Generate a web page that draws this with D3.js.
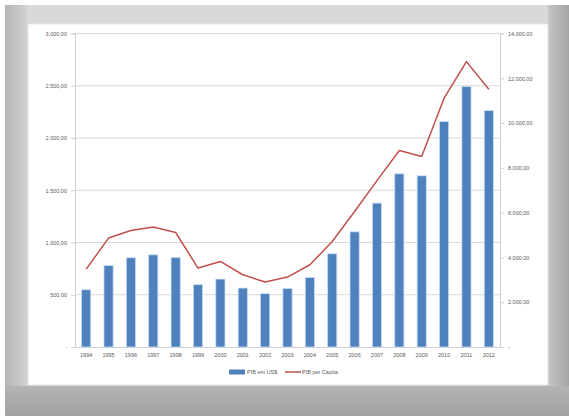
<!DOCTYPE html>
<html>
<head>
<meta charset="utf-8">
<script src="https://cdn.jsdelivr.net/npm/d3@7"></script>
<style>
body { margin: 0; background: #fff; }
text { font-family: "Liberation Sans", Arial, sans-serif; fill: #595959; }
</style>
</head>
<body>
<div id="chart"></div>
<script>
var years = ['1994', '1995', '1996', '1997', '1998', '1999', '2000', '2001', '2002', '2003',
             '2004', '2005', '2006', '2007', '2008', '2009', '2010', '2011', '2012'];
var pibUsd = [548, 780, 854, 882, 857, 596, 650, 564, 510, 560,
              665, 892, 1102, 1377, 1657, 1638, 2157, 2492, 2262];
var pibCapita = [3480, 4864, 5203, 5355, 5114, 3525, 3820, 3226, 2900, 3124,
                 3672, 4712, 6050, 7430, 8773, 8505, 11111, 12744, 11513];
var leftTicks = [0, 500, 1000, 1500, 2000, 2500, 3000];
var rightTicks = [0, 2000, 4000, 6000, 8000, 10000, 12000, 14000];
var seriesNames = ['PIB em US$', 'PIB per Capita'];

var svgWidth = 569;
var svgHeight = 416;
var margin = {top: 33.5, right: 69, bottom: 69, left: 75};
var width = svgWidth - margin.left - margin.right;
var height = svgHeight - margin.top - margin.bottom;

var svg = d3.select('#chart')
            .append('svg')
            .attr('width', svgWidth)
            .attr('height', svgHeight);

// frame background
var defs = svg.append('defs');
var bg = defs.append('linearGradient').attr('id', 'bg').attr('x1', 0).attr('y1', 0).attr('x2', 0).attr('y2', 1);
bg.append('stop').attr('offset', '0%').attr('stop-color', '#d9d9d9');
bg.append('stop').attr('offset', '100%').attr('stop-color', '#c2c2c2');
var side = defs.append('linearGradient').attr('id', 'side').attr('x1', 0).attr('y1', 0).attr('x2', 1).attr('y2', 0);
side.append('stop').attr('offset', '0%').attr('stop-color', '#b5b5b5');
side.append('stop').attr('offset', '100%').attr('stop-color', '#d2d2d2');
var rside = defs.append('linearGradient').attr('id', 'rside').attr('x1', 0).attr('y1', 0).attr('x2', 1).attr('y2', 0);
rside.append('stop').attr('offset', '0%').attr('stop-color', '#c6c6c6');
rside.append('stop').attr('offset', '100%').attr('stop-color', '#a4a4a4');
var bot = defs.append('linearGradient').attr('id', 'bot').attr('x1', 0).attr('y1', 0).attr('x2', 0).attr('y2', 1);
bot.append('stop').attr('offset', '0%').attr('stop-color', '#b4b4b4');
bot.append('stop').attr('offset', '100%').attr('stop-color', '#a2a2a2');

svg.append('rect').attr('x', 5).attr('y', 5).attr('width', 564).attr('height', 411).attr('fill', 'url(#bg)');
svg.append('rect').attr('x', 5).attr('y', 5).attr('width', 22).attr('height', 411).attr('fill', 'url(#side)');
svg.append('rect').attr('x', 548).attr('y', 5).attr('width', 21).attr('height', 411).attr('fill', 'url(#rside)');
svg.append('rect').attr('x', 5).attr('y', 386).attr('width', 564).attr('height', 30).attr('fill', 'url(#bot)');
svg.append('rect').attr('x', 28).attr('y', 24).attr('width', 520).attr('height', 361)
   .attr('fill', '#fff').attr('stroke', '#e6e6e6');

var chartGroup = svg.append('g')
                    .attr('transform', `translate(${margin.left}, ${margin.top})`);

var xBandScale = d3.scaleBand()
                   .domain(years)
                   .range([0, width])
                   .paddingInner(0.59)
                   .paddingOuter(0.295);

var yLeftScale = d3.scaleLinear().domain([0, 3000]).range([height, 0]);
var yRightScale = d3.scaleLinear().domain([0, 14000]).range([height, 0]);

function fmt(v) {
    if (v === 0) return '-';
    return d3.format(',.2f')(v).replace(/,/g, '#').replace('.', ',').replace(/#/g, '.');
}

// gridlines
chartGroup.append('g')
          .selectAll('line')
          .data(leftTicks.slice(1))
          .enter()
          .append('line')
          .attr('x1', 0)
          .attr('x2', width)
          .attr('y1', d => yLeftScale(d))
          .attr('y2', d => yLeftScale(d))
          .attr('stroke', '#d9d9d9')
          .attr('stroke-width', 1);

var leftAxis = d3.axisLeft(yLeftScale).tickValues(leftTicks).tickFormat(fmt).tickSize(4).tickPadding(4);
var rightAxis = d3.axisRight(yRightScale).tickValues(rightTicks).tickFormat(fmt).tickSize(4).tickPadding(4);
var bottomAxis = d3.axisBottom(xBandScale).tickSize(0).tickPadding(6);

var gl = chartGroup.append('g').call(leftAxis);
var gr = chartGroup.append('g').attr('transform', `translate(${width}, 0)`).call(rightAxis);
var gb = chartGroup.append('g').attr('transform', `translate(0, ${height})`).call(bottomAxis);

[gl, gr, gb].forEach(function(g) {
    g.select('.domain').attr('stroke', '#d0d0d0');
    g.selectAll('.tick line').attr('stroke', '#d0d0d0');
    g.selectAll('text').attr('font-size', '5.5px').attr('fill', '#777')
     .attr('font-family', '"Liberation Sans", Arial, sans-serif');
});

// bars
chartGroup.selectAll('.bar')
          .data(pibUsd)
          .enter()
          .append('rect')
          .attr('class', 'bar')
          .attr('x', (d, i) => xBandScale(years[i]))
          .attr('y', d => yLeftScale(d))
          .attr('width', xBandScale.bandwidth())
          .attr('height', d => height - yLeftScale(d))
          .attr('fill', '#4f81bd')
          .attr('stroke', '#c5dcf5')
          .attr('stroke-width', 0.8);

// line
var line = d3.line()
             .x((d, i) => xBandScale(years[i]) + xBandScale.bandwidth() / 2)
             .y(d => yRightScale(d));

chartGroup.append('path')
          .datum(pibCapita)
          .attr('d', line)
          .attr('fill', 'none')
          .attr('stroke', '#c0504d')
          .attr('stroke-width', 1.5)
          .attr('stroke-linejoin', 'round');

// legend
var legend = svg.append('g').attr('transform', 'translate(229, 372)');
legend.append('rect')
      .attr('x', 0).attr('y', -2.5)
      .attr('width', 16).attr('height', 5)
      .attr('fill', '#4f81bd');
legend.append('text')
      .attr('x', 18).attr('y', 2)
      .attr('font-size', '5.5px')
      .attr('fill', '#777')
      .text(seriesNames[0]);
legend.append('line')
      .attr('x1', 56).attr('x2', 72)
      .attr('y1', 0).attr('y2', 0)
      .attr('stroke', '#c0504d')
      .attr('stroke-width', 1.5);
legend.append('text')
      .attr('x', 73).attr('y', 2)
      .attr('font-size', '5.5px')
      .attr('fill', '#777')
      .text(seriesNames[1]);
</script>
</body>
</html>
